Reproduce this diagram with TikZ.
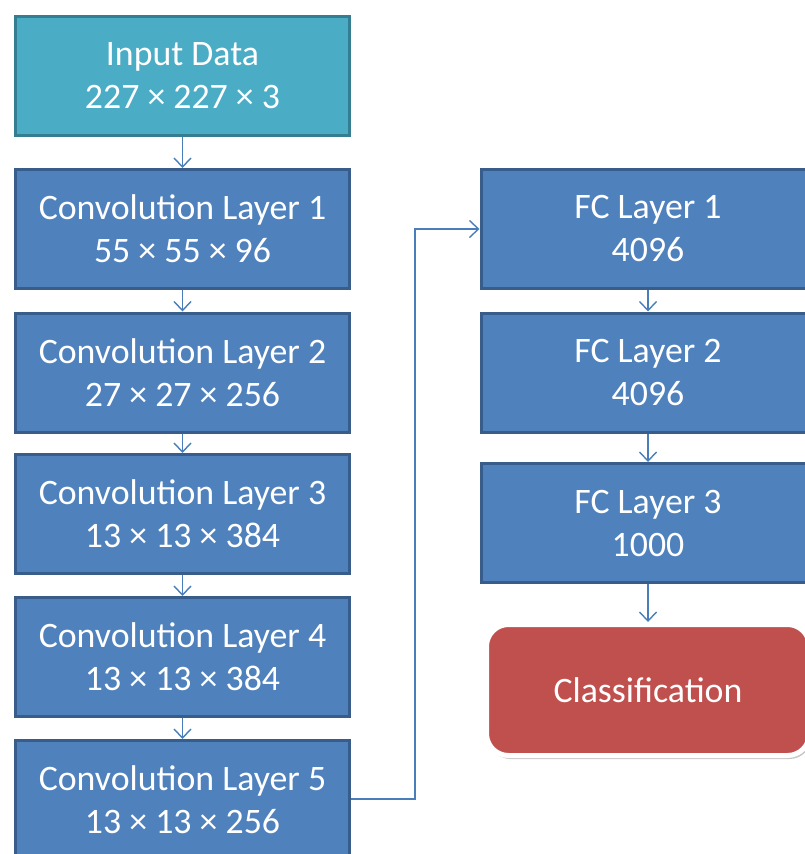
\documentclass[tikz,border=0pt]{standalone}
\usepackage{fontspec}
\setmainfont{Carlito}
\usetikzlibrary{arrows.meta,shadows}
\definecolor{bfill}{HTML}{4F81BD}
\definecolor{bline}{HTML}{385D8A}
\definecolor{tfill}{HTML}{4BACC6}
\definecolor{tline}{HTML}{357D91}
\definecolor{rfill}{HTML}{C0504D}
\definecolor{aline}{HTML}{4A7EBB}
\begin{document}
\begin{tikzpicture}[x=1pt,y=-1pt,
  layerbox/.style={draw=bline,fill=bfill,line width=3pt,minimum width=334pt,minimum height=119pt,
    text=white,align=center,inner sep=0pt,yshift=0pt,font=\fontsize{35.8}{43}\selectfont},
  inbox/.style={layerbox,draw=tline,fill=tfill},
  classbox/.style={draw=white,fill=rfill,line width=5pt,rounded corners=22pt,minimum width=323pt,minimum height=131pt,
    text=white,align=center,inner sep=0pt,font=\fontsize{35.8}{43}\selectfont,
    drop shadow={opacity=0.5,fill=black!45,shadow xshift=2pt,shadow yshift=-3.5pt}},
  conn/.style={draw=aline,line width=1.4pt,-{Straight Barb[length=9pt,width=17pt,line width=1.4pt]}}]
\useasboundingbox (0,0) rectangle (805,854);
\clip (0,0) rectangle (805,854);
\node[inbox] (in) at (182.5,75.5) {Input Data\\227 × 227 × 3};
\node[layerbox] (c1) at (182.5,229) {Convolution Layer 1\\55 × 55 × 96};
\node[layerbox] (c2) at (182.5,372.5) {Convolution Layer 2\\27 × 27 × 256};
\node[layerbox] (c3) at (182.5,514) {Convolution Layer 3\\13 × 13 × 384};
\node[layerbox] (c4) at (182.5,657) {Convolution Layer 4\\13 × 13 × 384};
\node[layerbox] (c5) at (182.5,800) {Convolution Layer 5\\13 × 13 × 256};
\node[layerbox] (f1) at (648,229) {FC Layer 1\\4096};
\node[layerbox] (f2) at (648,372.5) {FC Layer 2\\4096};
\node[layerbox] (f3) at (648,523) {FC Layer 3\\1000};
\node[classbox] (cl) at (648,690) {Classification};
\coordinate (bend1) at (415,799);
\coordinate (bend2) at (415,229);
\draw[conn] (in.south) -- (c1.north);
\draw[conn] (c1.south) -- (c2.north);
\draw[conn] (c2.south) -- (c3.north);
\draw[conn] (c3.south) -- (c4.north);
\draw[conn] (c4.south) -- (c5.north);
\draw[conn] (c5.east |- bend1) -- (bend1) -- (bend2) -- (f1.west |- bend2);
\draw[conn] (f1.south) -- (f2.north);
\draw[conn] (f2.south) -- (f3.north);
\draw[conn] (f3.south) -- (cl.north);
\end{tikzpicture}
\end{document}
